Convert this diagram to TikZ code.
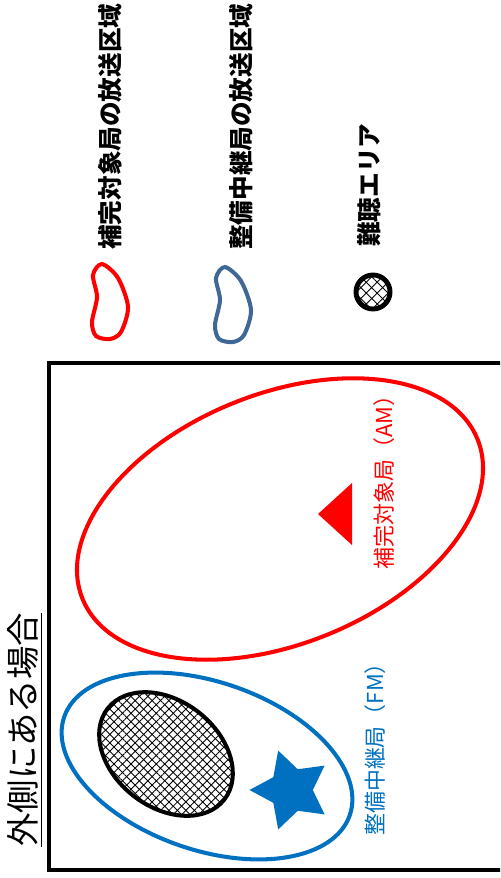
\documentclass[tikz,border=0pt]{standalone}
\usepackage{fontspec}
\setmainfont{Noto Sans CJK JP}
\usetikzlibrary{shapes.geometric,patterns.meta}
\definecolor{amred}{RGB}{255,0,0}
\definecolor{fmblue}{RGB}{0,112,192}
\definecolor{legblue}{RGB}{64,104,150}
\begin{document}
\begin{tikzpicture}[x=0.02cm,y=0.02cm,
  zone/.style={line width=2.3pt},
  hatchA/.style={pattern={Lines[angle=45,distance=3.4pt,line width=0.5pt]}},
  hatchB/.style={pattern={Lines[angle=-45,distance=3.4pt,line width=0.5pt]}},
  vtext/.style={rotate=90,inner sep=0pt,font=\fontsize{12.5}{15}\selectfont},
  legtext/.style={rotate=90,anchor=west,inner sep=0pt,font=\bfseries\fontsize{14}{17}\selectfont}]
\useasboundingbox (0,0) rectangle (500,-878);
\clip (0,0) rectangle (500,-878);

% Title
\node[rotate=90,anchor=west,inner sep=0pt,font=\fontsize{19}{23}\selectfont] (title) at (25,-847) {\underline{外側にある場合}};

% Legend
\draw[zone,amred] plot[smooth cycle] coordinates {(102,-264) (118,-278) (128,-307) (121,-332) (110,-339) (96,-336) (92,-322) (97,-297) (93,-275)};
\draw[zone,legblue,shift={(123,-3)}] plot[smooth cycle] coordinates {(102,-264) (118,-278) (128,-307) (121,-332) (110,-339) (96,-336) (92,-322) (97,-297) (93,-275)};
\path[pattern={Lines[angle=45,distance=4.4pt,line width=0.5pt]}] (373,-292) circle [radius=17];
\path[pattern={Lines[angle=-45,distance=4.4pt,line width=0.5pt]}] (373,-292) circle [radius=17];
\draw[line width=2.8pt] (373,-292) circle [radius=17];
\node[legtext] (legam) at (110,-250) {補完対象局の放送区域};
\node[legtext] (legfm) at (241,-250) {整備中継局の放送区域};
\node[legtext] (leghard) at (369,-247) {難聴エリア};

% Frame
\draw[line width=2.3pt] (520,-363) -- (49,-363) -- (49,-870) -- (520,-870);

% AM station
\draw[zone,amred,rotate around={22:(280,-519)}] (280,-519) ellipse [x radius=213,y radius=125];
\fill[amred] (352,-483) -- (352,-545) -- (318,-514) -- cycle;
\node[vtext,text=amred] (amname) at (384,-477) {補完対象局（AM）};

% FM relay station
\draw[zone,fmblue,rotate around={-19:(207,-766)}] (207,-766) ellipse [x radius=151,y radius=84];
\node[star,star points=5,star point ratio=1.9,minimum size=1.66cm,inner sep=0pt,fill=fmblue,shape border rotate=90] (fmstar) at (291,-790) {};
\node[vtext,text=fmblue] (fmname) at (375,-744) {整備中継局（FM）};

% Hard-to-hear area
\path[hatchA,rotate around={-38:(166,-754)}] (166,-754) ellipse [x radius=74,y radius=53];
\path[hatchB,rotate around={-38:(166,-754)}] (166,-754) ellipse [x radius=74,y radius=53];
\draw[zone,rotate around={-38:(166,-754)}] (166,-754) ellipse [x radius=74,y radius=53];
\end{tikzpicture}
\end{document}
